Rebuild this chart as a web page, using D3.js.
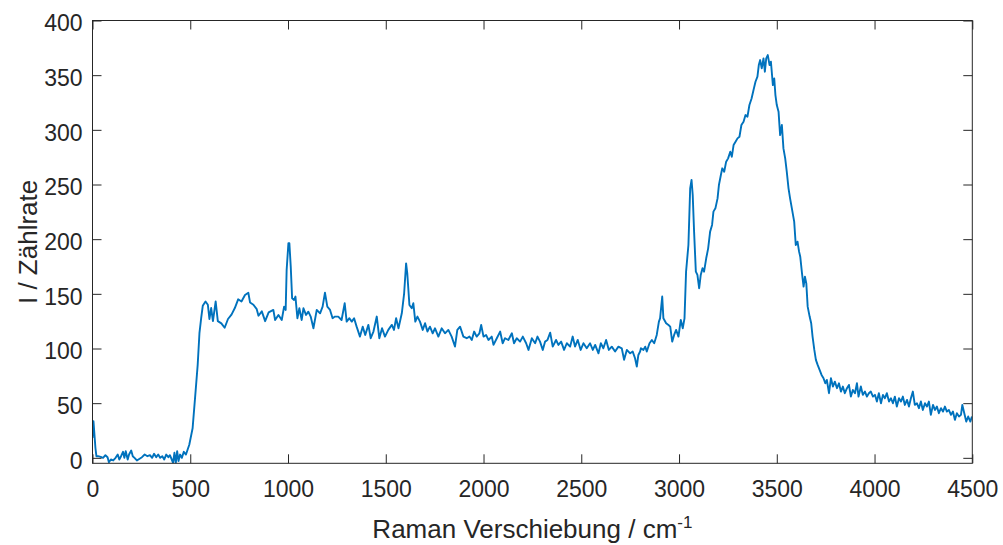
<!DOCTYPE html>
<html>
<head>
<meta charset="utf-8">
<script src="https://cdn.jsdelivr.net/npm/d3@7"></script>
<style>
  html, body { margin: 0; padding: 0; background: #fff; }
  svg { display: block; }
</style>
</head>
<body>
<svg id="chart" width="1003" height="545"></svg>
<script>
// Raman spectrum: Raman shift (cm^-1) and detector counts
const shift = [
  0, 5, 15, 20, 28, 42, 54, 66, 77, 84, 94, 106, 118, 129, 137, 146, 156, 163, 170, 180,
  187, 198, 206, 215, 227, 239, 253, 267, 281, 294, 305, 315, 326, 336, 346, 357, 367, 377, 388, 396,
  405, 412, 419, 426, 433, 440, 448, 457, 467, 478, 495, 512, 526, 538, 547, 556, 564, 578, 590, 598,
  607, 616, 630, 641, 659, 676, 693, 711, 728, 745, 762, 780, 797, 806, 823, 840, 849, 866, 883, 901,
  925, 934, 951, 968, 980, 988, 993, 1002, 1007, 1014, 1021, 1031, 1038, 1048, 1058, 1070, 1079, 1092, 1104, 1116,
  1130, 1147, 1164, 1177, 1189, 1201, 1215, 1228, 1240, 1257, 1274, 1290, 1300, 1314, 1326, 1338, 1351, 1368, 1382, 1395,
  1411, 1423, 1437, 1454, 1467, 1481, 1496, 1513, 1531, 1542, 1553, 1565, 1582, 1594, 1604, 1610, 1621, 1633, 1641, 1651,
  1662, 1675, 1689, 1701, 1713, 1726, 1740, 1752, 1769, 1786, 1803, 1820, 1837, 1854, 1866, 1880,
  1897, 1914, 1928, 1940, 1952, 1965, 1979, 1988, 2000, 2013, 2025, 2042, 2051, 2068, 2085, 2098, 2110, 2127, 2145, 2156,
  2170, 2187, 2201, 2218, 2230, 2247, 2264, 2276, 2289, 2303, 2315, 2327, 2341, 2354, 2371, 2383, 2397, 2412, 2426, 2443,
  2456, 2468, 2482, 2497, 2511, 2528, 2545, 2559, 2571, 2588, 2600, 2613, 2627, 2641, 2656, 2673, 2690, 2707, 2719, 2733,
  2750, 2763, 2775, 2784, 2792, 2801,
  2805, 2818, 2827, 2835, 2849, 2861, 2873, 2886, 2897, 2903, 2914, 2920, 2934, 2946, 2955, 2965, 2975, 2985, 2997, 3009,
  3019, 3028, 3036, 3048, 3057, 3064, 3070, 3077, 3086, 3094, 3103, 3111, 3120, 3128, 3139, 3149, 3159, 3169, 3176, 3186,
  3197, 3204, 3214, 3221, 3231, 3241, 3251, 3262, 3270, 3279, 3289, 3299, 3309, 3319, 3330, 3340, 3350, 3360, 3371, 3381,
  3391, 3401, 3408, 3415, 3423, 3432, 3439, 3446, 3454, 3463, 3470, 3480, 3487, 3493, 3500, 3509, 3517, 3526, 3534, 3543,
  3551, 3560, 3568, 3580, 3589, 3597, 3606, 3614,
  3620, 3629, 3637, 3644, 3651, 3658, 3668, 3676, 3683, 3692, 3700, 3709, 3719, 3729, 3739, 3748, 3756, 3767, 3777, 3787,
  3797, 3808, 3818, 3828, 3838, 3848, 3859, 3869, 3879, 3889, 3900, 3910, 3918, 3930, 3940, 3951, 3961, 3971, 3981, 3992,
  4002, 4012, 4022, 4033, 4043, 4053, 4063, 4074, 4084, 4094, 4104, 4114, 4125, 4135, 4145, 4155, 4166, 4176, 4186, 4196,
  4206, 4217, 4227, 4237, 4247, 4258, 4268, 4278, 4288, 4299, 4309, 4319, 4329, 4340, 4350, 4360, 4370, 4380, 4391, 4401,
  4411, 4421, 4432, 4442, 4449, 4459, 4469, 4479, 4490, 4498
];

const counts = [
  18.3, 33.5, 9, 1.5, 1.5, 0.9, 0, 2.4, 0.6, -4, -1.5, -2.4, 0, 3, -1.5, 1.5, 5.5, 0, 6.1, -1.5,
  3, 6.7, 1.5, 0, -2.4, -1, 0.6, 3, 1.5, 2.4, 0, 3.7, 0.6, 3, 0, 1.5, -1.5, 3, 0.6, 2.4,
  -1.5, -4.6, 4.6, -4.8, 6.1, -3, 3, 0, 5.5, 3, 12, 27, 58, 85, 114, 128, 139, 143, 140, 127,
  137, 125, 143, 125, 123, 119, 127, 131, 137, 145, 143, 149, 151, 142, 140, 136, 130, 134, 125, 133,
  135.3, 126.1, 130.7, 126.1, 138.3, 135.3, 171.8, 196.2, 196.2, 174.9, 145.9, 144.4, 147.5, 127.7, 136.8, 126.1, 136.8, 130.7, 133.7, 129.2,
  118.5, 135.3, 132.2, 138.3, 151.1, 138.3, 135.3, 127.7, 129.2, 129.2, 126.1, 141.4, 124.6, 127.7, 124.6, 127.7, 120.0, 110.9, 120.0, 112.4,
  121.6, 109.4, 115.5, 129.2, 109.4, 118.5, 110.9, 117.0, 121.6, 117.0, 127.7, 118.5, 132.2, 150.5, 177.9, 168.8, 139.8, 136.8, 141.4, 124.6,
  129.2, 124.6, 117.0, 123.1, 115.5, 120.0, 113.9, 118.5, 110.9, 118.5, 113.9, 117.0, 110.9, 101.8, 117.0, 120.0,
  110.9, 109.4, 110.9, 107.8, 115.5, 110.9, 113.9, 121.5, 110.9, 112.4, 107.8, 110.9, 103.3, 109.4, 115.5, 104.8, 109.4, 107.8, 113.9, 104.8,
  109.4, 106.3, 110.9, 104.8, 98.7, 109.4, 104.8, 110.9, 106.3, 98.7, 106.3, 107.8, 114.5, 101.7, 107.8, 103.3, 106.3, 98.7, 104.8, 101.7,
  110.9, 101.7, 107.8, 98.7, 104.8, 100.2, 104.8, 98.7, 103.3, 95.6, 104.8, 100.2, 107.8, 98.7, 101.7, 97.2, 101.7, 100.2, 89.6, 98.7,
  95.6, 97.2, 91.1, 83.5, 94.1, 97.2,
  100.2, 98.7, 101.7, 97.2, 104.8, 107.8, 104.8, 112.4, 124.6, 127.6, 147.5, 127.6, 123.1, 121.5, 120.0, 106.3, 112.4, 117.0, 110.9, 126.1,
  118.5, 127.6, 170.3, 194.7, 246.5, 254.1, 240.4, 206.9, 170.3, 167.3, 155.1, 167.3, 173.4, 170.3, 182.5, 191.6, 206.9, 213.0, 225.2, 228.2,
  237.3, 249.5, 258.7, 264.8, 261.7, 270.9, 273.9, 280.0, 275.4, 286.1, 289.1, 292.2, 293.7, 304.4, 307.4, 313.5, 312.0, 322.7, 328.7, 336.4,
  344.0, 348.6, 359.2, 363.8, 356.2, 365.3, 353.1, 365.3, 368.4, 359.2, 362.3, 340.9, 347.0, 331.8, 322.7, 316.6, 295.2, 304.4, 283.0, 273.9,
  261.7, 246.5, 237.3, 225.2, 216.0, 194.7, 197.7, 188.6,
  184.0, 168.8, 156.6, 165.7, 159.6, 138.3, 129.2, 123.1, 110.9, 98.7, 89.6, 85.0, 80.4, 75.8, 72.8, 68.2, 71.3, 59.1, 72.8, 65.2,
  69.7, 63.7, 68.2, 60.6, 65.2, 59.1, 63.7, 66.7, 56.0, 62.1, 59.1, 68.2, 56.0, 65.2, 57.6, 60.6, 56.0, 59.1, 60.6, 56.0,
  57.6, 51.5, 59.1, 49.9, 57.6, 54.5, 59.1, 51.5, 54.5, 49.9, 56.0, 46.9, 54.5, 51.5, 56.0, 48.4, 53.0, 46.9, 54.5, 60.6,
  48.4, 49.9, 45.4, 51.5, 43.8, 49.9, 46.9, 51.5, 39.3, 48.4, 43.8, 46.9, 40.8, 45.4, 42.3, 46.9, 42.3, 43.8, 39.3, 42.3,
  34.7, 40.8, 37.8, 39.3, 48.4, 40.8, 33.2, 37.8, 33.2, 37.8
];

const xTicks = [0, 500, 1000, 1500, 2000, 2500, 3000, 3500, 4000, 4500];
const yTicks = [0, 50, 100, 150, 200, 250, 300, 350, 400];

const svg = d3.select("#chart");
const plotLeft = 92.5, plotTop = 20.5, plotRight = 972.3, plotBottom = 463.3;
const axisColor = "#262626";
const font = "'Liberation Sans', Arial, Helvetica, sans-serif";

const x = d3.scaleLinear().domain([0, 4500]).range([plotLeft, plotRight]);
const y = d3.scaleLinear().domain([-5, 400]).range([plotBottom, plotTop]);

// spectrum trace
const line = d3.line()
  .x((d, i) => x(shift[i]))
  .y(d => y(d));

svg.append("defs").append("clipPath").attr("id", "plotClip")
  .append("rect").attr("x", plotLeft).attr("y", plotTop)
  .attr("width", plotRight - plotLeft).attr("height", plotBottom - plotTop);

svg.append("path")
  .datum(counts)
  .attr("clip-path", "url(#plotClip)")
  .attr("fill", "none")
  .attr("stroke", "#0072BD")
  .attr("stroke-width", 1.9)
  .attr("stroke-linejoin", "round")
  .attr("d", line);

// axes with inward ticks on all four sides
function styleAxis(g) {
  g.select(".domain").remove();
  g.selectAll(".tick line").attr("stroke", axisColor).attr("stroke-width", 1);
  g.selectAll(".tick text").attr("fill", axisColor)
    .style("font-family", font).style("font-size", "23px");
}

svg.append("g").attr("transform", `translate(0,${plotBottom})`)
  .call(d3.axisBottom(x).tickValues(xTicks).tickSize(-9).tickPadding(17).tickFormat(d3.format("d")))
  .call(styleAxis);

svg.append("g").attr("transform", `translate(0,${plotTop})`)
  .call(d3.axisTop(x).tickValues(xTicks).tickSize(-9).tickFormat(""))
  .call(styleAxis);

const yAxisG = svg.append("g").attr("transform", `translate(${plotLeft},0)`)
  .call(d3.axisLeft(y).tickValues(yTicks).tickSize(-9).tickPadding(10).tickFormat(d3.format("d")))
  .call(styleAxis);
yAxisG.selectAll(".tick text").attr("dy", "0.45em");

svg.append("g").attr("transform", `translate(${plotRight},0)`)
  .call(d3.axisRight(y).tickValues(yTicks).tickSize(-9).tickFormat(""))
  .call(styleAxis);

// frame
svg.append("rect")
  .attr("x", plotLeft).attr("y", plotTop)
  .attr("width", plotRight - plotLeft).attr("height", plotBottom - plotTop)
  .attr("fill", "none").attr("stroke", axisColor).attr("stroke-width", 1);

// axis titles
const xTitle = svg.append("text")
  .attr("x", (plotLeft + plotRight) / 2).attr("y", 538)
  .attr("text-anchor", "middle")
  .attr("fill", axisColor)
  .style("font-family", font).style("font-size", "26px");
xTitle.append("tspan").text("Raman Verschiebung / cm");
xTitle.append("tspan").attr("dy", "-10").style("font-size", "17px").text("-1");

svg.append("text")
  .attr("transform", `translate(37,${(plotTop + plotBottom) / 2}) rotate(-90)`)
  .attr("text-anchor", "middle")
  .attr("fill", axisColor)
  .style("font-family", font).style("font-size", "26px")
  .text("I / Zählrate");
</script>
</body>
</html>
